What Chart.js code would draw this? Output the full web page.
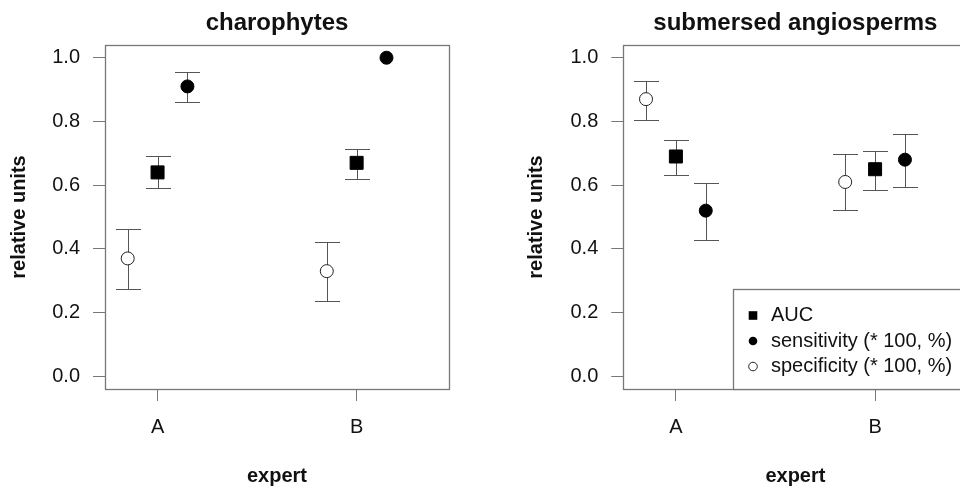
<!DOCTYPE html>
<html>
<head>
<meta charset="utf-8">
<script src="https://cdn.jsdelivr.net/npm/chart.js@4.4.0/dist/chart.umd.min.js"></script>
<style>
  html, body { margin: 0; padding: 0; background: #fff; overflow: hidden; }
  #wrap { position: relative; width: 960px; height: 492px; overflow: hidden; }
  #wrap canvas { position: absolute; top: 0; }
  #chartLeft { left: 0; }
  #chartRight { left: 480px; }
</style>
</head>
<body>
<div id="wrap">
  <canvas id="chartLeft" width="480" height="492"></canvas>
  <canvas id="chartRight" width="520" height="492"></canvas>
</div>
<script>
// ===== DATA =====
const experts = ['A', 'B'];
const yTicks = [0, 0.2, 0.4, 0.6, 0.8, 1.0];
const seriesNames = ['AUC', 'sensitivity (* 100, %)', 'specificity (* 100, %)'];

// charophytes
const charoAuc = [0.64, 0.67];
const charoAucLow = [0.59, 0.62];
const charoAucHigh = [0.69, 0.715];
const charoSens = [0.91, 1.0];
const charoSensLow = [0.86, 1.0];
const charoSensHigh = [0.955, 1.0];
const charoSpec = [0.37, 0.33];
const charoSpecLow = [0.275, 0.237];
const charoSpecHigh = [0.463, 0.42];

// submersed angiosperms
const angioAuc = [0.69, 0.65];
const angioAucLow = [0.633, 0.585];
const angioAucHigh = [0.742, 0.708];
const angioSens = [0.52, 0.68];
const angioSensLow = [0.428, 0.593];
const angioSensHigh = [0.608, 0.762];
const angioSpec = [0.87, 0.61];
const angioSpecLow = [0.806, 0.521];
const angioSpecHigh = [0.928, 0.697];

// ===== STYLE =====
const FONT = "'Liberation Sans', Arial, Helvetica, sans-serif";
const GREY_BOX = '#777';
const GREY_BAR = '#555';
const TEXT = '#111';

// R style axis limits (4% expansion)
function expandir(lim) {
    const pad = (lim[1] - lim[0]) * 0.04;
    return [lim[0] - pad, lim[1] + pad];
}
const xRange = expandir([0.8, 2.4]);
const yRange = expandir([0, 1]);

// ===== PLUGINS =====
const errorBars = {
    id: 'errorBars',
    beforeDatasetsDraw(chart) {
        const { ctx, scales: { x, y } } = chart;
        ctx.save();
        ctx.strokeStyle = GREY_BAR;
        ctx.lineWidth = 1;
        chart.data.datasets.forEach(ds => {
            ds.data.forEach((p, i) => {
                const px = Math.round(x.getPixelForValue(p.x)) + 0.5;
                const top = Math.round(y.getPixelForValue(ds.errHigh[i])) + 0.5;
                const bot = Math.round(y.getPixelForValue(ds.errLow[i])) + 0.5;
                if (Math.abs(bot - top) < 1) return;
                ctx.beginPath();
                ctx.moveTo(px, top); ctx.lineTo(px, bot);
                ctx.moveTo(px - 12.5, top); ctx.lineTo(px + 12.5, top);
                ctx.moveTo(px - 12.5, bot); ctx.lineTo(px + 12.5, bot);
                ctx.stroke();
            });
        });
        ctx.restore();
    }
};

const plotBox = {
    id: 'plotBox',
    afterDraw(chart) {
        const { ctx, chartArea: a } = chart;
        ctx.save();
        ctx.strokeStyle = GREY_BOX;
        ctx.lineWidth = 1.3;
        ctx.strokeRect(Math.round(a.left) + 0.5, Math.round(a.top) + 0.5,
            Math.round(a.right - a.left), Math.round(a.bottom - a.top));
        ctx.restore();
    }
};

// legend box at bottom right, like R legend("bottomright")
const legendaCanto = {
    id: 'legendaCanto',
    afterDraw(chart) {
        const { ctx, chartArea: a } = chart;
        const left = Math.round(a.right - 235) + 0.5;
        const top = Math.round(a.bottom - 100) + 0.5;
        ctx.save();
        ctx.fillStyle = '#fff';
        ctx.fillRect(left, top, a.right - left + 20, a.bottom - top);
        ctx.strokeStyle = GREY_BOX;
        ctx.lineWidth = 1.3;
        ctx.strokeRect(left, top, a.right - left + 20, Math.round(a.bottom - top));
        ctx.font = '20px ' + FONT;
        ctx.textBaseline = 'middle';
        chart.data.datasets.forEach((ds, i) => {
            const cy = top + 26 + i * 25.5;
            const cx = left + 19.5;
            ctx.fillStyle = '#000';
            ctx.strokeStyle = '#222';
            ctx.lineWidth = 1;
            if (ds.pointStyle === 'rect') {
                ctx.fillRect(cx - 4.3, cy - 4.3, 8.6, 8.6);
            } else {
                ctx.beginPath();
                ctx.arc(cx, cy, 4.3, 0, Math.PI * 2);
                if (ds.backgroundColor === '#000') ctx.fill();
                else ctx.stroke();
            }
            ctx.fillStyle = TEXT;
            ctx.fillText(ds.label, left + 37.5, cy);
        });
        ctx.restore();
    }
};

// ===== PANEL =====
function criarPainel(canvasId, titulo, series, cfg) {
    const ctx = document.getElementById(canvasId).getContext('2d');
    const datasets = series.map(s => ({
        label: s.name,
        data: s.values.map((v, i) => ({ x: i + 1 + s.shift, y: v })),
        errLow: s.low,
        errHigh: s.high,
        pointStyle: s.style,
        pointRadius: s.radius,
        pointHoverRadius: s.radius,
        backgroundColor: s.fill,
        borderColor: s.stroke,
        borderWidth: 1,
        showLine: false
    }));

    const plugins = [errorBars, plotBox];
    if (cfg.legenda) plugins.push(legendaCanto);

    return new Chart(ctx, {
        type: 'scatter',
        data: { datasets },
        options: {
            responsive: false,
            animation: false,
            layout: { padding: { left: 0, top: 0, right: cfg.padRight, bottom: 0 } },
            plugins: {
                legend: { display: false },
                tooltip: { enabled: false },
                title: {
                    display: true,
                    text: titulo,
                    fullSize: false,
                    color: TEXT,
                    font: { family: FONT, size: 24, weight: 'bold', lineHeight: 1.2 },
                    padding: { top: 8.5, bottom: 7.7 }
                }
            },
            scales: {
                x: {
                    type: 'linear',
                    min: xRange[0],
                    max: xRange[1],
                    afterBuildTicks: scale => { scale.ticks = experts.map((e, i) => ({ value: i + 1 })); },
                    afterFit: scale => { scale.height = 103; },
                    ticks: {
                        color: TEXT,
                        padding: 14,
                        font: { family: FONT, size: 20 },
                        callback: v => experts[v - 1]
                    },
                    grid: { drawOnChartArea: false, drawTicks: true, tickLength: 12, color: GREY_BOX },
                    border: { display: false },
                    title: {
                        display: true,
                        text: 'expert',
                        color: TEXT,
                        font: { family: FONT, size: 20, weight: 'bold', lineHeight: 1.2 },
                        padding: { top: 0, bottom: 4 }
                    }
                },
                y: {
                    type: 'linear',
                    min: yRange[0],
                    max: yRange[1],
                    afterBuildTicks: scale => { scale.ticks = yTicks.map(v => ({ value: v })); },
                    afterFit: scale => { scale.width = cfg.yWidth; },
                    ticks: {
                        color: TEXT,
                        padding: 13,
                        font: { family: FONT, size: 20 },
                        callback: v => v.toFixed(1)
                    },
                    grid: { drawOnChartArea: false, drawTicks: true, tickLength: 12, color: GREY_BOX },
                    border: { display: false },
                    title: {
                        display: true,
                        text: 'relative units',
                        color: TEXT,
                        font: { family: FONT, size: 20, weight: 'bold', lineHeight: 1.2 },
                        padding: { top: cfg.yTitlePad, bottom: 0 }
                    }
                }
            }
        },
        plugins
    });
}

function montarSeries(auc, aucLow, aucHigh, sens, sensLow, sensHigh, spec, specLow, specHigh) {
    return [
        { name: seriesNames[0], values: auc, low: aucLow, high: aucHigh, shift: 0,
          style: 'rect', radius: 9.2, fill: '#000', stroke: '#000' },
        { name: seriesNames[1], values: sens, low: sensLow, high: sensHigh, shift: 0.15,
          style: 'circle', radius: 6.5, fill: '#000', stroke: '#000' },
        { name: seriesNames[2], values: spec, low: specLow, high: specHigh, shift: -0.15,
          style: 'circle', radius: 6.5, fill: '#fff', stroke: '#222' }
    ];
}

// ===== INIT =====
criarPainel('chartLeft', 'charophytes',
    montarSeries(charoAuc, charoAucLow, charoAucHigh, charoSens, charoSensLow, charoSensHigh,
        charoSpec, charoSpecLow, charoSpecHigh),
    { yWidth: 105, yTitlePad: 7, padRight: 31, legenda: false });

criarPainel('chartRight', 'submersed angiosperms',
    montarSeries(angioAuc, angioAucLow, angioAucHigh, angioSens, angioSensLow, angioSensHigh,
        angioSpec, angioSpecLow, angioSpecHigh),
    { yWidth: 143.3, yTitlePad: 44, padRight: 32.5, legenda: true });
</script>
</body>
</html>
